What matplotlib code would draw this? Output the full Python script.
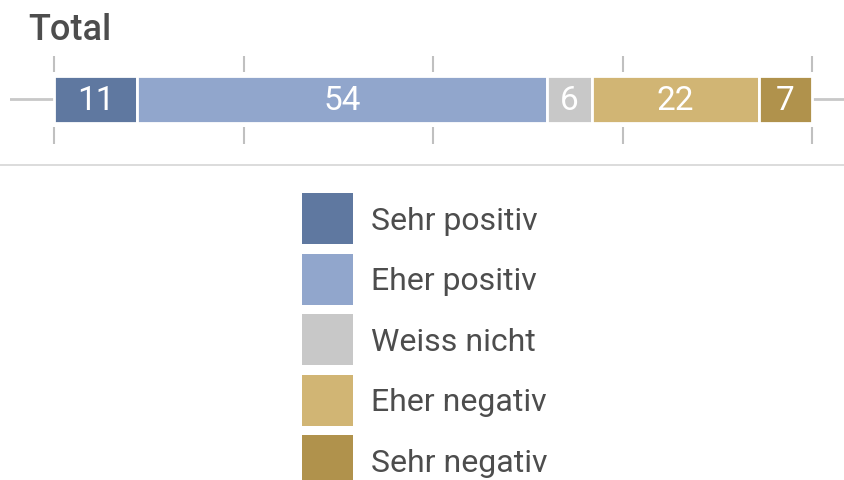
import matplotlib
matplotlib.use("Agg")
import matplotlib.pyplot as plt
from matplotlib.patches import Patch
from matplotlib.lines import Line2D

categories = ["Sehr positiv", "Eher positiv", "Weiss nicht", "Eher negativ", "Sehr negativ"]
values = [11, 54, 6, 22, 7]
colors = ["#5f78a0", "#91a6cc", "#c8c8c8", "#d1b574", "#b0924c"]
ticks = [0, 25, 50, 75, 100]
title = "Total"

plt.rcParams['font.family'] = ['Roboto', 'DejaVu Sans']

W, H = 844, 481
fig = plt.figure(figsize=(W / 100, H / 100), dpi=100)

ax = fig.add_axes([10 / W, 1 - 150 / H, (844 - 10) / W, 100 / H])
px_per_unit = (812 - 54) / 100
ax.set_xlim(-(54 - 10) / px_per_unit, 100 + (844 - 812) / px_per_unit)
ax.set_ylim(-1, 1)
ax.axis("off")

ax.axhline(0, color="#c8c8c8", lw=2, zorder=0)
ax.vlines(ticks, 0.55, 0.87, color="#c0c0c0", lw=1.5, zorder=0)
ax.vlines(ticks, -0.89, -0.55, color="#c0c0c0", lw=1.5, zorder=0)

left = 0
for cat, v, c in zip(categories, values, colors):
    ax.barh(0, v, left=left, height=0.94, color=c, edgecolor="white", linewidth=2, zorder=2)
    ax.text(left + v / 2, -0.02, str(v), color="white", fontsize=24, ha="center", va="center", zorder=3)
    left += v

fig.text(28 / W, 1 - 31 / H, title, fontsize=26, color="#4d4d4d", ha="left", va="center",
         fontweight="medium")

fig.add_artist(Line2D([0, 1], [1 - 166 / H, 1 - 166 / H], color="#d5d5d5", lw=1.2))

handles = [Patch(facecolor=c, edgecolor="none") for c in colors]
fs = 23
fpx = fs / 0.72
rect_px = 51
hh = (rect_px / fpx - 0.245) / 0.65
leg = fig.legend(handles, categories, loc="upper left", bbox_to_anchor=(302 / W, 1 - 194 / H),
                 frameon=False, fontsize=fs, handlelength=rect_px / fpx, handleheight=hh,
                 labelspacing=9.5 / fpx, handletextpad=18 / fpx, borderpad=0,
                 borderaxespad=0, labelcolor="#4d4d4d")

fig.savefig("out.png", dpi=100)
